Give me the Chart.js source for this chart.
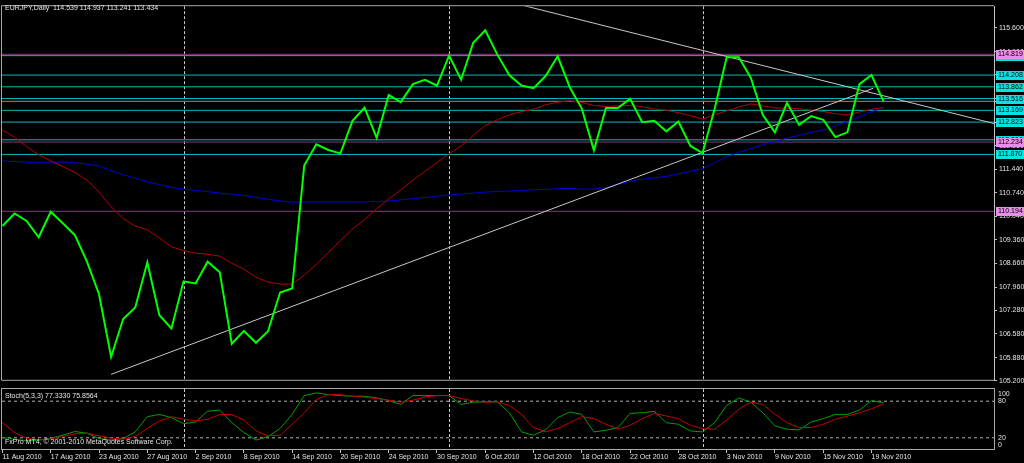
<!DOCTYPE html>
<html>
<head>
<meta charset="utf-8">
<script src="https://cdn.jsdelivr.net/npm/chart.js@4"></script>
<style>
  html, body { margin: 0; padding: 0; background: #000; overflow: hidden; }
  #main { position: absolute; left: 0; top: 0; }
  #stoch { position: absolute; left: 0; top: 387px; }
</style>
</head>
<body>
<canvas id="main" width="1024" height="387"></canvas>
<canvas id="stoch" width="1024" height="76"></canvas>
<script>
// EURJPY daily - close line, two moving averages, levels, trendlines + stochastic

const title = 'EURJPY,Daily  114.539 114.937 113.241 113.434';
const stochTitle = 'Stoch(5,3,3) 77.3330 75.8564';
const copyright = 'FxPro MT4, \u00a9 2001-2010 MetaQuotes Software Corp.';

// bar index of each date label (weekday bars, label every 4th bar)
const dateIdx = [0, 4, 8, 12, 16, 20, 24, 28, 32, 36, 40, 44, 48, 52, 56, 60, 64, 68, 72];
const dateLabels = ['11 Aug 2010', '17 Aug 2010', '23 Aug 2010', '27 Aug 2010', '2 Sep 2010', '8 Sep 2010',
    '14 Sep 2010', '20 Sep 2010', '24 Sep 2010', '30 Sep 2010', '6 Oct 2010', '12 Oct 2010', '18 Oct 2010',
    '22 Oct 2010', '28 Oct 2010', '3 Nov 2010', '9 Nov 2010', '15 Nov 2010', '19 Nov 2010'];
// period separators (first bar of Sep, Oct, Nov)
const monthStarts = [15, 37, 58];

const closes = [109.76, 110.13, 109.91, 109.43, 110.18, 109.84, 109.49, 108.71, 107.75, 105.90,
    107.02, 107.36, 108.69, 107.13, 106.74, 108.13, 108.07, 108.71, 108.40, 106.29,
    106.67, 106.32, 106.66, 107.80, 107.92, 111.54, 112.17, 112.00, 111.90, 112.86,
    113.25, 112.36, 113.62, 113.41, 113.94, 114.07, 113.90, 114.78, 114.07, 115.16,
    115.53, 114.81, 114.20, 113.90, 113.82, 114.18, 114.76, 113.85, 113.22, 111.99,
    113.24, 113.24, 113.51, 112.82, 112.86, 112.55, 112.84, 112.12, 111.91, 113.21,
    114.73, 114.73, 114.13, 113.03, 112.52, 113.39, 112.74, 113.00, 112.89, 112.38,
    112.52, 113.94, 114.21, 113.434];

const maRed = [112.59, 112.38, 112.10, 111.86, 111.68, 111.51, 111.34, 111.11, 110.76, 110.33,
    109.98, 109.76, 109.65, 109.41, 109.15, 109.03, 108.96, 108.93, 108.87, 108.66,
    108.49, 108.25, 108.11, 108.05, 108.05, 108.31, 108.63, 108.98, 109.33, 109.67,
    109.95, 110.27, 110.56, 110.82, 111.11, 111.37, 111.63, 111.89, 112.12, 112.43,
    112.72, 112.89, 113.04, 113.13, 113.20, 113.33, 113.41, 113.45, 113.40, 113.31,
    113.28, 113.30, 113.32, 113.27, 113.21, 113.17, 113.10, 113.01, 112.91, 113.04,
    113.15, 113.27, 113.36, 113.30, 113.24, 113.23, 113.22, 113.17, 113.13, 113.07,
    113.03, 113.12, 113.20, 113.25];

const maBlue = [111.68, 111.66, 111.64, 111.64, 111.64, 111.64, 111.63, 111.58, 111.53, 111.39,
    111.27, 111.17, 111.06, 110.98, 110.90, 110.85, 110.81, 110.77, 110.73, 110.70,
    110.66, 110.60, 110.55, 110.50, 110.46, 110.47, 110.47, 110.47, 110.47, 110.47,
    110.47, 110.48, 110.50, 110.53, 110.57, 110.60, 110.64, 110.68, 110.70, 110.73,
    110.76, 110.78, 110.79, 110.81, 110.83, 110.84, 110.86, 110.87, 110.85, 110.85,
    110.89, 110.99, 111.08, 111.14, 111.18, 111.22, 111.30, 111.37, 111.45, 111.62,
    111.80, 111.93, 112.04, 112.16, 112.25, 112.35, 112.43, 112.52, 112.59, 112.71,
    112.84, 112.98, 113.13, 113.25];

const stochK = [20.6, 17.8, 15.1, 16.2, 18.9, 24.3, 30.3, 27.6, 18.9, 16.2,
    18.9, 29.7, 54.6, 58.4, 53.0, 43.2, 45.9, 63.7, 65.4, 44.9,
    28.7, 16.2, 22.2, 35.2, 58.4, 89.2, 93.6, 90.8, 89.2, 88.1,
    88.1, 85.4, 81.1, 74.6, 89.2, 89.2, 89.2, 89.2, 74.6, 78.4,
    78.9, 78.9, 61.1, 29.7, 24.3, 33.0, 53.0, 62.2, 58.4, 29.7,
    32.4, 36.8, 60.0, 61.1, 63.2, 44.9, 42.2, 31.3, 29.7, 44.9,
    73.0, 85.4, 78.4, 61.1, 39.5, 34.1, 33.0, 45.9, 51.4, 58.4,
    58.4, 65.4, 81.1, 77.3];

const stochD = [44.9, 28.7, 18.9, 16.8, 17.8, 22.2, 26.5, 27.6, 23.2, 19.5,
    17.8, 22.2, 35.2, 47.6, 54.6, 50.3, 47.6, 50.3, 58.4, 57.8,
    49.2, 31.4, 23.2, 24.3, 42.2, 61.1, 82.7, 90.8, 90.8, 88.1,
    86.5, 84.3, 81.6, 78.4, 81.6, 87.0, 89.2, 89.2, 84.3, 80.5,
    78.4, 78.9, 73.0, 58.4, 36.8, 29.7, 35.1, 44.9, 54.6, 51.4,
    42.2, 34.1, 40.5, 51.4, 60.0, 55.7, 51.4, 40.5, 35.1, 34.1,
    49.2, 66.7, 78.4, 74.6, 58.4, 44.9, 36.8, 36.8, 42.2, 50.3,
    55.7, 61.1, 67.6, 75.9];

// horizontal levels
const cyanLevels = [114.780, 114.208, 113.862, 113.516, 113.169, 112.823, 112.300, 111.870];
const magentaLevels = [114.819, 112.234, 110.194];
const bidPrice = 113.434;
const stochLevels = [20, 80];
const stochTicks = [100, 80, 20, 0];
const priceTicks = [105.2, 105.88, 106.58, 107.28, 107.96, 108.66, 109.36, 110.04, 110.74,
    111.44, 112.13, 112.82, 113.52, 114.21, 114.9, 115.6];

// trendlines: [bar index, price]
const upTrend = [[9, 105.39], [72.15, 113.82]];
const downTrend = [[40, 116.54], [82.15, 112.78]];

const xMin = -0.04, xMax = 82.15;
const yMin = 105.2, yMax = 116.237;

const FONT = { family: '"Liberation Sans", Arial, sans-serif', size: 7 };
const FONT_CSS = '7px "Liberation Sans", Arial, sans-serif';
const FRAME = '#a8a8a8';
const TEXT = '#e4e4e4';

const series = arr => arr.map((v, i) => ({ x: i, y: v }));
const pts = arr => arr.map(p => ({ x: p[0], y: p[1] }));
const flat = v => [{ x: xMin, y: v }, { x: xMax, y: v }];
const line = (data, color, width, dash) => ({
    data, borderColor: color, borderWidth: width, borderDash: dash || [],
    pointRadius: 0, tension: 0, fill: false
});

const separators = {
    id: 'separators',
    beforeDatasetsDraw(chart) {
        const { ctx, chartArea: a, scales: { x } } = chart;
        ctx.save();
        ctx.strokeStyle = '#c8c8c8';
        ctx.lineWidth = 1;
        ctx.setLineDash([3, 2]);
        monthStarts.forEach(i => {
            const px = Math.round(x.getPixelForValue(i)) + 0.5;
            ctx.beginPath();
            ctx.moveTo(px, a.top);
            ctx.lineTo(px, a.bottom);
            ctx.stroke();
        });
        ctx.restore();
    }
};

const mainOverlay = {
    id: 'mainOverlay',
    afterDraw(chart) {
        const { ctx, chartArea: a, scales: { y } } = chart;
        ctx.save();
        // frame (right side is the dotted axis line)
        ctx.strokeStyle = FRAME;
        ctx.lineWidth = 1;
        ctx.beginPath();
        ctx.moveTo(a.right, a.top - 0.5);
        ctx.lineTo(a.left - 0.5, a.top - 0.5);
        ctx.lineTo(a.left - 0.5, a.bottom - 0.5);
        ctx.lineTo(a.right, a.bottom - 0.5);
        ctx.stroke();
        // bid line crossing into the scale
        const by = Math.round(y.getPixelForValue(bidPrice)) + 0.5;
        ctx.strokeStyle = '#d0d0d0';
        ctx.beginPath();
        ctx.moveTo(a.right, by);
        ctx.lineTo(chart.width, by);
        ctx.stroke();

        ctx.font = FONT_CSS;
        ctx.textBaseline = 'middle';
        ctx.fillStyle = TEXT;
        ctx.fillText(title, 5, 8);

        // price labels of the horizontal lines
        const box = (v, col) => {
            const py = Math.round(y.getPixelForValue(v));
            ctx.fillStyle = col;
            ctx.fillRect(a.right + 2, py - 4, chart.width - a.right - 2, 9);
            ctx.fillStyle = '#000';
            ctx.fillText(v.toFixed(3), a.right + 4, py + 0.5);
        };
        cyanLevels.forEach(v => box(v, '#00e4e4'));
        magentaLevels.forEach(v => box(v, '#e88ee8'));
        ctx.restore();
    }
};

const stochOverlay = {
    id: 'stochOverlay',
    afterDraw(chart) {
        const { ctx, chartArea: a, scales: { y } } = chart;
        ctx.save();
        ctx.strokeStyle = FRAME;
        ctx.lineWidth = 1;
        ctx.strokeRect(a.left - 0.5, a.top - 0.5, a.right - a.left + 1, a.bottom - a.top);
        ctx.font = FONT_CSS;
        ctx.textBaseline = 'middle';
        ctx.fillStyle = TEXT;
        ctx.fillText(stochTitle, 5, 9);
        ctx.fillText(copyright, 5, 55.5);
        stochTicks.forEach(v => {
            const py = Math.min(Math.max(y.getPixelForValue(v), a.top + 5), a.bottom - 5);
            ctx.fillText(String(v), a.right + 4, py);
        });
        ctx.restore();
    }
};

new Chart(document.getElementById('main'), {
    type: 'line',
    data: {
        datasets: [
            line(series(closes), '#00ff00', 2),
            line(pts(upTrend), '#c8c8c8', 1),
            line(pts(downTrend), '#c8c8c8', 1),
            line(series(maRed), '#b40000', 1),
            line(series(maBlue), '#0000d2', 1),
            line(flat(bidPrice), '#8c8c8c', 1),
            ...magentaLevels.map(v => line(flat(v), '#7e3c7e', 1)),
            ...cyanLevels.map(v => line(flat(v), '#00bcbc', 1))
        ]
    },
    options: {
        responsive: false,
        animation: false,
        events: [],
        layout: { padding: { left: 2, top: 2, right: 0, bottom: 2 } },
        plugins: { legend: { display: false }, tooltip: { enabled: false } },
        scales: {
            x: { type: 'linear', min: xMin, max: xMax, display: false },
            y: {
                position: 'right', min: yMin, max: yMax,
                afterFit: s => { s.width = 30; },
                afterBuildTicks: s => { s.ticks = priceTicks.map(v => ({ value: v })); },
                grid: { drawOnChartArea: false, tickLength: 3, color: '#c0c0c0' },
                border: { color: '#c0c0c0', dash: [3, 2] },
                ticks: { color: TEXT, padding: 2, font: FONT, callback: v => v.toFixed(3) }
            }
        }
    },
    plugins: [separators, mainOverlay]
});

new Chart(document.getElementById('stoch'), {
    type: 'line',
    data: {
        datasets: [
            line(series(stochD), '#c80000', 1),
            line(series(stochK), '#00a000', 1),
            ...stochLevels.map(v => line(flat(v), '#b0b0b0', 1, [3, 3]))
        ]
    },
    options: {
        responsive: false,
        animation: false,
        events: [],
        layout: { padding: { left: 2, top: 2, right: 0, bottom: 0 } },
        plugins: { legend: { display: false }, tooltip: { enabled: false } },
        scales: {
            x: {
                type: 'linear', min: xMin, max: xMax, position: 'bottom',
                afterFit: s => { s.height = 13; },
                afterBuildTicks: s => { s.ticks = dateIdx.map(v => ({ value: v })); },
                grid: { drawOnChartArea: false, tickLength: 3, color: '#c0c0c0' },
                border: { display: false },
                ticks: {
                    align: 'start', padding: 0, maxRotation: 0, autoSkip: false,
                    color: TEXT, font: FONT,
                    callback: v => dateLabels[dateIdx.indexOf(v)]
                }
            },
            y: {
                position: 'right', min: 0, max: 100,
                afterFit: s => { s.width = 30; },
                ticks: { display: false },
                grid: { display: false },
                border: { display: false }
            }
        }
    },
    plugins: [separators, stochOverlay]
});
</script>
</body>
</html>
